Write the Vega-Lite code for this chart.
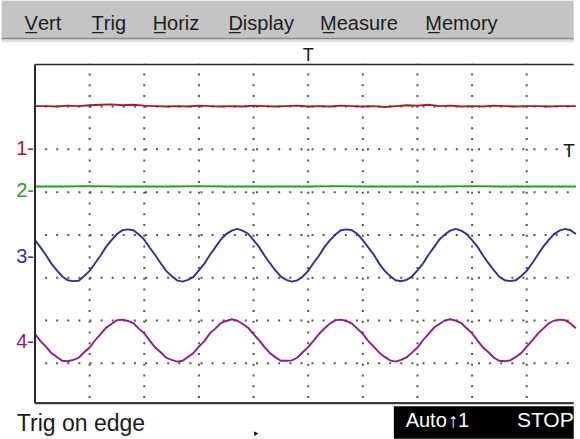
{
  "$schema": "https://vega.github.io/schema/vega-lite/v6.json",
  "width": 580,
  "height": 439,
  "autosize": {"type": "fit", "contains": "padding"},
  "padding": 0,
  "background": "white",
  "config": {"view": {"stroke": null}},
  "datasets": {
    "traces": [
      {"ch":"1","x":0.0,"y":3.01},{"ch":"1","x":0.2,"y":3.01},{"ch":"1","x":0.4,"y":3.0},{"ch":"1","x":0.6,"y":3.02},{"ch":"1","x":0.8,"y":3.01},{"ch":"1","x":1.0,"y":3.03},{"ch":"1","x":1.2,"y":3.04},{"ch":"1","x":1.4,"y":3.05},{"ch":"1","x":1.6,"y":3.03},{"ch":"1","x":1.8,"y":3.04},
      {"ch":"1","x":2.0,"y":3.02},{"ch":"1","x":2.2,"y":3.01},{"ch":"1","x":2.4,"y":3.0},{"ch":"1","x":2.6,"y":3.01},{"ch":"1","x":2.8,"y":3.0},{"ch":"1","x":3.0,"y":3.02},{"ch":"1","x":3.2,"y":3.01},{"ch":"1","x":3.4,"y":3.0},{"ch":"1","x":3.6,"y":3.01},{"ch":"1","x":3.8,"y":3.0},
      {"ch":"1","x":4.0,"y":3.02},{"ch":"1","x":4.2,"y":3.01},{"ch":"1","x":4.4,"y":3.0},{"ch":"1","x":4.6,"y":3.01},{"ch":"1","x":4.8,"y":3.02},{"ch":"1","x":5.0,"y":3.0},{"ch":"1","x":5.2,"y":3.01},{"ch":"1","x":5.4,"y":3.0},{"ch":"1","x":5.6,"y":3.02},{"ch":"1","x":5.8,"y":3.01},
      {"ch":"1","x":6.0,"y":3.0},{"ch":"1","x":6.2,"y":3.01},{"ch":"1","x":6.4,"y":2.99},{"ch":"1","x":6.6,"y":3.01},{"ch":"1","x":6.8,"y":3.03},{"ch":"1","x":7.0,"y":3.02},{"ch":"1","x":7.2,"y":3.04},{"ch":"1","x":7.4,"y":3.01},{"ch":"1","x":7.6,"y":3.02},{"ch":"1","x":7.8,"y":3.0},
      {"ch":"1","x":8.0,"y":3.01},{"ch":"1","x":8.2,"y":3.0},{"ch":"1","x":8.4,"y":3.02},{"ch":"1","x":8.6,"y":3.01},{"ch":"1","x":8.8,"y":3.0},{"ch":"1","x":9.0,"y":3.01},{"ch":"1","x":9.2,"y":3.01},{"ch":"1","x":9.4,"y":3.0},{"ch":"1","x":9.6,"y":3.01},{"ch":"1","x":9.9,"y":3.01},
      {"ch":"2","x":0.0,"y":1.13},{"ch":"2","x":0.5,"y":1.13},{"ch":"2","x":1.0,"y":1.14},{"ch":"2","x":1.5,"y":1.13},{"ch":"2","x":2.0,"y":1.13},{"ch":"2","x":2.5,"y":1.13},{"ch":"2","x":3.0,"y":1.14},{"ch":"2","x":3.5,"y":1.13},{"ch":"2","x":4.0,"y":1.13},{"ch":"2","x":4.5,"y":1.13},
      {"ch":"2","x":5.0,"y":1.13},{"ch":"2","x":5.5,"y":1.14},{"ch":"2","x":6.0,"y":1.13},{"ch":"2","x":6.5,"y":1.13},{"ch":"2","x":7.0,"y":1.13},{"ch":"2","x":7.5,"y":1.13},{"ch":"2","x":8.0,"y":1.14},{"ch":"2","x":8.5,"y":1.13},{"ch":"2","x":9.0,"y":1.13},{"ch":"2","x":9.9,"y":1.13},
      {"ch":"3","x":0.0,"y":-0.12},{"ch":"3","x":0.1,"y":-0.29},{"ch":"3","x":0.2,"y":-0.47},{"ch":"3","x":0.3,"y":-0.67},{"ch":"3","x":0.4,"y":-0.83},{"ch":"3","x":0.5,"y":-0.97},{"ch":"3","x":0.6,"y":-1.06},{"ch":"3","x":0.7,"y":-1.08},{"ch":"3","x":0.8,"y":-1.07},{"ch":"3","x":0.9,"y":-0.96},
      {"ch":"3","x":1.0,"y":-0.84},{"ch":"3","x":1.1,"y":-0.66},{"ch":"3","x":1.2,"y":-0.48},{"ch":"3","x":1.3,"y":-0.28},{"ch":"3","x":1.4,"y":-0.12},{"ch":"3","x":1.5,"y":0.02},{"ch":"3","x":1.6,"y":0.11},{"ch":"3","x":1.7,"y":0.13},{"ch":"3","x":1.8,"y":0.11},{"ch":"3","x":1.9,"y":0.01},
      {"ch":"3","x":2.0,"y":-0.11},{"ch":"3","x":2.1,"y":-0.30},{"ch":"3","x":2.2,"y":-0.47},{"ch":"3","x":2.3,"y":-0.66},{"ch":"3","x":2.4,"y":-0.84},{"ch":"3","x":2.5,"y":-0.96},{"ch":"3","x":2.6,"y":-1.06},{"ch":"3","x":2.7,"y":-1.09},{"ch":"3","x":2.8,"y":-1.05},{"ch":"3","x":2.9,"y":-0.98},
      {"ch":"3","x":3.0,"y":-0.83},{"ch":"3","x":3.1,"y":-0.67},{"ch":"3","x":3.2,"y":-0.47},{"ch":"3","x":3.3,"y":-0.29},{"ch":"3","x":3.4,"y":-0.11},{"ch":"3","x":3.5,"y":0.02},{"ch":"3","x":3.6,"y":0.10},{"ch":"3","x":3.7,"y":0.14},{"ch":"3","x":3.8,"y":0.10},{"ch":"3","x":3.9,"y":0.03},
      {"ch":"3","x":4.0,"y":-0.12},{"ch":"3","x":4.1,"y":-0.28},{"ch":"3","x":4.2,"y":-0.48},{"ch":"3","x":4.3,"y":-0.66},{"ch":"3","x":4.4,"y":-0.83},{"ch":"3","x":4.5,"y":-0.97},{"ch":"3","x":4.6,"y":-1.05},{"ch":"3","x":4.7,"y":-1.09},{"ch":"3","x":4.8,"y":-1.06},{"ch":"3","x":4.9,"y":-0.97},
      {"ch":"3","x":5.0,"y":-0.84},{"ch":"3","x":5.1,"y":-0.65},{"ch":"3","x":5.2,"y":-0.48},{"ch":"3","x":5.3,"y":-0.28},{"ch":"3","x":5.4,"y":-0.12},{"ch":"3","x":5.5,"y":0.01},{"ch":"3","x":5.6,"y":0.11},{"ch":"3","x":5.7,"y":0.13},{"ch":"3","x":5.8,"y":0.11},{"ch":"3","x":5.9,"y":0.02},
      {"ch":"3","x":6.0,"y":-0.12},{"ch":"3","x":6.1,"y":-0.29},{"ch":"3","x":6.2,"y":-0.46},{"ch":"3","x":6.3,"y":-0.67},{"ch":"3","x":6.4,"y":-0.84},{"ch":"3","x":6.5,"y":-0.96},{"ch":"3","x":6.6,"y":-1.06},{"ch":"3","x":6.7,"y":-1.08},{"ch":"3","x":6.8,"y":-1.05},{"ch":"3","x":6.9,"y":-0.97},
      {"ch":"3","x":7.0,"y":-0.83},{"ch":"3","x":7.1,"y":-0.67},{"ch":"3","x":7.2,"y":-0.47},{"ch":"3","x":7.3,"y":-0.29},{"ch":"3","x":7.4,"y":-0.11},{"ch":"3","x":7.5,"y":0.01},{"ch":"3","x":7.6,"y":0.10},{"ch":"3","x":7.7,"y":0.14},{"ch":"3","x":7.8,"y":0.10},{"ch":"3","x":7.9,"y":0.02},
      {"ch":"3","x":8.0,"y":-0.12},{"ch":"3","x":8.1,"y":-0.28},{"ch":"3","x":8.2,"y":-0.48},{"ch":"3","x":8.3,"y":-0.66},{"ch":"3","x":8.4,"y":-0.83},{"ch":"3","x":8.5,"y":-0.98},{"ch":"3","x":8.6,"y":-1.06},{"ch":"3","x":8.7,"y":-1.08},{"ch":"3","x":8.8,"y":-1.06},{"ch":"3","x":8.9,"y":-0.96},
      {"ch":"3","x":9.0,"y":-0.84},{"ch":"3","x":9.1,"y":-0.66},{"ch":"3","x":9.2,"y":-0.47},{"ch":"3","x":9.3,"y":-0.28},{"ch":"3","x":9.4,"y":-0.12},{"ch":"3","x":9.5,"y":0.02},{"ch":"3","x":9.6,"y":0.10},{"ch":"3","x":9.7,"y":0.14},{"ch":"3","x":9.8,"y":0.11},{"ch":"3","x":9.9,"y":0.02},
      {"ch":"4","x":0.0,"y":-2.31},{"ch":"4","x":0.1,"y":-2.48},{"ch":"4","x":0.2,"y":-2.61},{"ch":"4","x":0.3,"y":-2.76},{"ch":"4","x":0.4,"y":-2.85},{"ch":"4","x":0.5,"y":-2.94},{"ch":"4","x":0.6,"y":-2.95},{"ch":"4","x":0.7,"y":-2.92},{"ch":"4","x":0.8,"y":-2.87},{"ch":"4","x":0.9,"y":-2.74},
      {"ch":"4","x":1.0,"y":-2.63},{"ch":"4","x":1.1,"y":-2.46},{"ch":"4","x":1.2,"y":-2.32},{"ch":"4","x":1.3,"y":-2.17},{"ch":"4","x":1.4,"y":-2.08},{"ch":"4","x":1.5,"y":-1.99},{"ch":"4","x":1.6,"y":-1.98},{"ch":"4","x":1.7,"y":-2.01},{"ch":"4","x":1.8,"y":-2.06},{"ch":"4","x":1.9,"y":-2.19},
      {"ch":"4","x":2.0,"y":-2.30},{"ch":"4","x":2.1,"y":-2.47},{"ch":"4","x":2.2,"y":-2.63},{"ch":"4","x":2.3,"y":-2.74},{"ch":"4","x":2.4,"y":-2.87},{"ch":"4","x":2.5,"y":-2.92},{"ch":"4","x":2.6,"y":-2.96},{"ch":"4","x":2.7,"y":-2.94},{"ch":"4","x":2.8,"y":-2.85},{"ch":"4","x":2.9,"y":-2.76},
      {"ch":"4","x":3.0,"y":-2.61},{"ch":"4","x":3.1,"y":-2.48},{"ch":"4","x":3.2,"y":-2.30},{"ch":"4","x":3.3,"y":-2.19},{"ch":"4","x":3.4,"y":-2.06},{"ch":"4","x":3.5,"y":-2.01},{"ch":"4","x":3.6,"y":-1.97},{"ch":"4","x":3.7,"y":-2.00},{"ch":"4","x":3.8,"y":-2.08},{"ch":"4","x":3.9,"y":-2.17},
      {"ch":"4","x":4.0,"y":-2.32},{"ch":"4","x":4.1,"y":-2.46},{"ch":"4","x":4.2,"y":-2.62},{"ch":"4","x":4.3,"y":-2.76},{"ch":"4","x":4.4,"y":-2.86},{"ch":"4","x":4.5,"y":-2.94},{"ch":"4","x":4.6,"y":-2.94},{"ch":"4","x":4.7,"y":-2.93},{"ch":"4","x":4.8,"y":-2.87},{"ch":"4","x":4.9,"y":-2.74},
      {"ch":"4","x":5.0,"y":-2.62},{"ch":"4","x":5.1,"y":-2.47},{"ch":"4","x":5.2,"y":-2.31},{"ch":"4","x":5.3,"y":-2.18},{"ch":"4","x":5.4,"y":-2.07},{"ch":"4","x":5.5,"y":-1.99},{"ch":"4","x":5.6,"y":-1.98},{"ch":"4","x":5.7,"y":-2.01},{"ch":"4","x":5.8,"y":-2.07},{"ch":"4","x":5.9,"y":-2.19},
      {"ch":"4","x":6.0,"y":-2.31},{"ch":"4","x":6.1,"y":-2.48},{"ch":"4","x":6.2,"y":-2.61},{"ch":"4","x":6.3,"y":-2.75},{"ch":"4","x":6.4,"y":-2.85},{"ch":"4","x":6.5,"y":-2.93},{"ch":"4","x":6.6,"y":-2.96},{"ch":"4","x":6.7,"y":-2.92},{"ch":"4","x":6.8,"y":-2.86},{"ch":"4","x":6.9,"y":-2.75},
      {"ch":"4","x":7.0,"y":-2.63},{"ch":"4","x":7.1,"y":-2.46},{"ch":"4","x":7.2,"y":-2.32},{"ch":"4","x":7.3,"y":-2.17},{"ch":"4","x":7.4,"y":-2.08},{"ch":"4","x":7.5,"y":-2.00},{"ch":"4","x":7.6,"y":-1.97},{"ch":"4","x":7.7,"y":-2.00},{"ch":"4","x":7.8,"y":-2.06},{"ch":"4","x":7.9,"y":-2.18},
      {"ch":"4","x":8.0,"y":-2.30},{"ch":"4","x":8.1,"y":-2.47},{"ch":"4","x":8.2,"y":-2.63},{"ch":"4","x":8.3,"y":-2.74},{"ch":"4","x":8.4,"y":-2.87},{"ch":"4","x":8.5,"y":-2.94},{"ch":"4","x":8.6,"y":-2.95},{"ch":"4","x":8.7,"y":-2.93},{"ch":"4","x":8.8,"y":-2.85},{"ch":"4","x":8.9,"y":-2.76},
      {"ch":"4","x":9.0,"y":-2.61},{"ch":"4","x":9.1,"y":-2.47},{"ch":"4","x":9.2,"y":-2.31},{"ch":"4","x":9.3,"y":-2.19},{"ch":"4","x":9.4,"y":-2.07},{"ch":"4","x":9.5,"y":-2.00},{"ch":"4","x":9.6,"y":-1.98},{"ch":"4","x":9.7,"y":-1.99},{"ch":"4","x":9.8,"y":-2.07},{"ch":"4","x":9.9,"y":-2.18}
    ],
    "markers": [
      {"ch":"1","x":0,"y":2.0,"label":"1-"},
      {"ch":"2","x":0,"y":1.02,"label":"2-"},
      {"ch":"3","x":0,"y":-0.51,"label":"3-"},
      {"ch":"4","x":0,"y":-2.49,"label":"4-"}
    ],
    "menu": [
      {"x":-0.19,"y":4.79,"label":"V\u0332ert"},
      {"x":1.036,"y":4.79,"label":"T\u0332rig"},
      {"x":2.153,"y":4.79,"label":"H\u0332oriz"},
      {"x":3.54,"y":4.79,"label":"D\u0332isplay"},
      {"x":5.216,"y":4.79,"label":"M\u0332easure"},
      {"x":7.144,"y":4.79,"label":"M\u0332emory"}
    ],
    "vgrid": [
      {"x":1,"y":4,"y2":-3.93},{"x":2,"y":4,"y2":-3.93},{"x":3,"y":4,"y2":-3.93},{"x":4,"y":4,"y2":-3.93},{"x":5,"y":4,"y2":-3.93},
      {"x":6,"y":4,"y2":-3.93},{"x":7,"y":4,"y2":-3.93},{"x":8,"y":4,"y2":-3.93},{"x":9,"y":4,"y2":-3.93}
    ],
    "hgrid": [
      {"x":0,"x2":9.86,"y":3},{"x":0,"x2":9.86,"y":2},{"x":0,"x2":9.86,"y":1},{"x":0,"x2":9.86,"y":0},
      {"x":0,"x2":9.86,"y":-1},{"x":0,"x2":9.86,"y":-2},{"x":0,"x2":9.86,"y":-3}
    ]
  },
  "encoding": {
    "x": {"field": "x", "type": "quantitative", "scale": {"domain": [-0.604, 9.847], "nice": false, "zero": false}, "axis": null},
    "y": {"field": "y", "type": "quantitative", "scale": {"domain": [-4.744, 5.465], "nice": false, "zero": false}, "axis": null}
  },
  "layer": [
    {
      "data": {"values": [{"x": -0.61, "x2": 9.86, "y": 4.6, "y2": 5.47}]},
      "mark": {"type": "rect", "color": "#c4c4c4"},
      "encoding": {"x2": {"field": "x2"}, "y2": {"field": "y2"}}
    },
    {
      "data": {"values": [{"x": -0.61, "x2": 9.86, "y": 4.5, "y2": 4.575}]},
      "mark": {"type": "rect", "color": "#dedede"},
      "encoding": {"x2": {"field": "x2"}, "y2": {"field": "y2"}}
    },
    {
      "data": {"values": [{"x": -0.61, "x2": 9.86, "y": 4.59}]},
      "mark": {"type": "rule", "color": "#8a8a8a", "strokeWidth": 1.5},
      "encoding": {"x2": {"field": "x2"}}
    },
    {
      "data": {"name": "vgrid"},
      "mark": {"type": "rule", "color": "#555555", "strokeWidth": 2, "strokeDash": [2, 8.75], "strokeDashOffset": 1},
      "encoding": {"y2": {"field": "y2"}}
    },
    {
      "data": {"name": "hgrid"},
      "mark": {"type": "rule", "color": "#555555", "strokeWidth": 2, "strokeDash": [2, 9.1], "strokeDashOffset": 1},
      "encoding": {"x2": {"field": "x2"}}
    },
    {
      "data": {"name": "traces"},
      "mark": {"type": "line", "interpolate": "linear"},
      "encoding": {
        "color": {"field": "ch", "type": "nominal", "scale": {"domain": ["1", "2", "3", "4"], "range": ["#a41e24", "#22a022", "#2f2fa3", "#8c1c8c"]}, "legend": null},
        "size": {"field": "ch", "type": "ordinal", "scale": {"domain": ["1", "2", "3", "4"], "range": [1.9, 1.9, 2.2, 2.7]}, "legend": null},
        "order": {"field": "x", "type": "quantitative"}
      }
    },
    {
      "data": {"values": [{"x": 0, "y": 3.98, "y2": -3.93}]},
      "mark": {"type": "rule", "color": "#2a2a2a", "strokeWidth": 2},
      "encoding": {"y2": {"field": "y2"}}
    },
    {
      "data": {"values": [{"x": 0, "x2": 9.86, "y": 3.98}]},
      "mark": {"type": "rule", "color": "#2a2a2a", "strokeWidth": 1.5},
      "encoding": {"x2": {"field": "x2"}}
    },
    {
      "data": {"values": [{"x": 0, "x2": 9.86, "y": -3.93}]},
      "mark": {"type": "rule", "color": "#3a3a3a", "strokeWidth": 2.2},
      "encoding": {"x2": {"field": "x2"}}
    },
    {
      "data": {"name": "menu"},
      "mark": {"type": "text", "align": "left", "baseline": "alphabetic", "font": "Liberation Sans", "fontSize": 20, "color": "#1e1e1e"},
      "encoding": {"text": {"field": "label"}}
    },
    {
      "data": {"name": "markers"},
      "mark": {"type": "text", "align": "right", "baseline": "middle", "font": "Liberation Sans", "fontSize": 20, "dx": -1},
      "encoding": {
        "text": {"field": "label"},
        "color": {"field": "ch", "type": "nominal", "scale": {"domain": ["1", "2", "3", "4"], "range": ["#a41e24", "#22a022", "#2f2fa3", "#8c1c8c"]}, "legend": null}
      }
    },
    {
      "data": {"values": [{"x": 5.0, "y": 4.07, "label": "T"}]},
      "mark": {"type": "text", "align": "center", "baseline": "alphabetic", "font": "Liberation Sans", "fontSize": 18, "color": "#1a1a1a"},
      "encoding": {"text": {"field": "label"}}
    },
    {
      "data": {"values": [{"x": 9.67, "y": 1.81, "label": "T"}]},
      "mark": {"type": "text", "align": "left", "baseline": "alphabetic", "font": "Liberation Sans", "fontSize": 19, "color": "#1a1a1a"},
      "encoding": {"text": {"field": "label"}}
    },
    {
      "data": {"values": [{"x": -0.333, "y": -4.58, "label": "Trig on edge"}]},
      "mark": {"type": "text", "align": "left", "baseline": "alphabetic", "font": "Liberation Sans", "fontSize": 23, "color": "#1a1a1a"},
      "encoding": {"text": {"field": "label"}}
    },
    {
      "data": {"values": [{"x": 6.568, "x2": 9.86, "y": -4.0, "y2": -4.76}]},
      "mark": {"type": "rect", "color": "#000000"},
      "encoding": {"x2": {"field": "x2"}, "y2": {"field": "y2"}}
    },
    {
      "data": {"values": [{"x": 6.784, "y": -4.49, "label": "Auto"}, {"x": 7.56, "y": -4.49, "label": "\u21911"}]},
      "mark": {"type": "text", "align": "left", "baseline": "alphabetic", "font": "Liberation Sans", "fontSize": 20, "color": "#ffffff"},
      "encoding": {"text": {"field": "label"}}
    },
    {
      "data": {"values": [{"x": 8.82, "y": -4.49, "label": "STOP"}]},
      "mark": {"type": "text", "align": "left", "baseline": "alphabetic", "font": "Liberation Sans", "fontSize": 21, "color": "#ffffff"},
      "encoding": {"text": {"field": "label"}}
    },
    {
      "data": {"values": [{"x": 4.03, "y": -4.63}]},
      "mark": {"type": "point", "shape": "triangle-up", "filled": true, "size": 22, "color": "#111111", "angle": -40, "opacity": 1}
    }
  ]
}
